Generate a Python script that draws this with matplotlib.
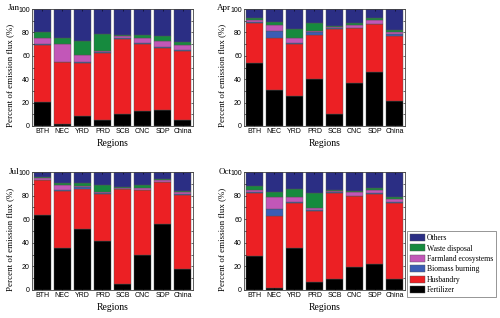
import numpy as np
import matplotlib
matplotlib.use('Agg')
from matplotlib import pyplot as plt
from matplotlib.ticker import MultipleLocator

regions = ['BTH', 'NEC', 'YRD', 'PRD', 'SCB', 'CNC', 'SDP', 'China']
sources = ['Fertilizer', 'Husbandry', 'Biomass burning', 'Farmland ecosystems', 'Waste disposal', 'Others']
colors = ['#000000', '#ec2024', '#3b5db5', '#c257b8', '#168a3e', '#2b2e84']

# cumulative tops (%) for fertilizer, husbandry, biomass, farmland, waste; others fill to 100
jan_tops = [[20.8, 69.5, 70.0, 75.0, 80.0],
            [2.0, 54.5, 55.0, 70.0, 75.0],
            [8.5, 53.5, 55.0, 61.0, 72.5],
            [5.5, 62.0, 63.0, 64.5, 78.5],
            [10.0, 74.5, 75.0, 76.5, 77.5],
            [12.5, 70.0, 71.0, 75.0, 78.0],
            [14.0, 67.0, 67.5, 73.0, 77.0],
            [5.0, 64.0, 65.0, 69.0, 71.5]]
apr_tops = [[53.5, 88.0, 89.0, 90.5, 92.0],
            [30.8, 75.5, 81.0, 86.0, 89.0],
            [25.6, 70.0, 71.0, 75.5, 83.0],
            [40.5, 78.0, 80.0, 81.0, 88.0],
            [10.0, 83.0, 83.5, 85.0, 85.5],
            [36.5, 83.5, 84.0, 86.0, 87.7],
            [46.0, 87.0, 87.5, 90.3, 92.0],
            [21.7, 77.0, 78.3, 80.6, 82.0]]
jul_tops = [[63.4, 93.0, 93.5, 94.5, 95.5],
            [35.5, 84.0, 84.5, 89.0, 90.7],
            [51.7, 85.8, 87.0, 87.8, 91.0],
            [41.2, 81.0, 82.0, 83.0, 88.6],
            [5.4, 85.2, 85.8, 86.6, 87.2],
            [30.0, 84.6, 85.0, 86.6, 88.6],
            [56.2, 91.2, 91.7, 93.0, 94.0],
            [18.0, 80.4, 81.5, 83.0, 84.0]]
oct_tops = [[28.4, 82.3, 83.0, 85.0, 88.0],
            [1.5, 63.0, 68.5, 79.0, 82.7],
            [35.2, 74.0, 75.0, 78.4, 85.5],
            [6.5, 67.0, 68.0, 69.6, 82.0],
            [9.0, 82.0, 83.0, 83.5, 84.6],
            [19.3, 79.3, 80.0, 83.0, 84.0],
            [22.0, 81.0, 82.0, 85.0, 86.6],
            [9.0, 73.6, 74.4, 77.0, 78.7]]

months = ['Jan', 'Apr', 'Jul', 'Oct']
all_tops = [jan_tops, apr_tops, jul_tops, oct_tops]

serif = 'Liberation Serif'
sans = 'Liberation Sans'

fig = plt.figure(figsize=(5.0, 3.18), dpi=100)
# axes boxes in pixels: left, top, right, bottom
boxes = [(32, 9, 193, 126), (244, 9, 405, 126), (32, 172, 193, 290), (244, 172, 405, 290)]

handles = None
for month, tops, (l, t, r, b) in zip(months, all_tops, boxes):
    ax = fig.add_axes([l / 500, 1 - b / 318, (r - l) / 500, (b - t) / 318])
    tops = np.array(tops)
    full = np.hstack([tops, np.full((len(regions), 1), 100.0)])
    bottoms = np.hstack([np.zeros((len(regions), 1)), full[:, :-1]])
    x = np.arange(len(regions))
    bars = []
    for k in range(len(sources)):
        bc = ax.bar(x, full[:, k] - bottoms[:, k], bottom=bottoms[:, k], width=0.84,
                    color=colors[k], edgecolor='#555555', linewidth=0.3)
        bars.append(bc)
    handles = bars
    ax.set_xlim(-0.5, len(regions) - 0.5)
    ax.set_ylim(0, 100)
    ax.set_xticks(x)
    ax.set_xticklabels(regions, fontsize=5, family=sans)
    ax.yaxis.set_major_locator(MultipleLocator(20))
    ax.yaxis.set_minor_locator(MultipleLocator(10))
    for lab in ax.get_yticklabels():
        lab.set_fontsize(5)
        lab.set_family(sans)
    ax.tick_params(axis='both', which='both', direction='in', top=True, right=True,
                   length=1.5, width=0.4, pad=1.5)
    ax.tick_params(axis='x', length=1.2)
    for s in ax.spines.values():
        s.set_linewidth(0.6)
        s.set_color('#444444')
    ax.set_xlabel('Regions', fontsize=7, family=serif, labelpad=3)
    ax.set_ylabel('Percent of emission flux (%)', fontsize=6.4, family=serif, labelpad=1)
    ax.yaxis.set_label_coords(-0.11, 0.43)
    fig.text((l - 12.5) / 500, 1 - (t - 0.5) / 318, month, fontsize=6.5, family=serif,
             ha='right', va='center')

leg = fig.legend(handles[::-1], sources[::-1], loc='lower left',
                 bbox_to_anchor=(407 / 500, 1 - 297 / 318), fancybox=False,
                 prop={'family': serif, 'size': 5.5}, handlelength=2.0, handleheight=1.05,
                 handletextpad=0.3, labelspacing=0.3, borderpad=0.35, borderaxespad=0)
leg.get_frame().set_edgecolor('#666666')
leg.get_frame().set_linewidth(0.6)

fig.savefig('out.png', dpi=100)
